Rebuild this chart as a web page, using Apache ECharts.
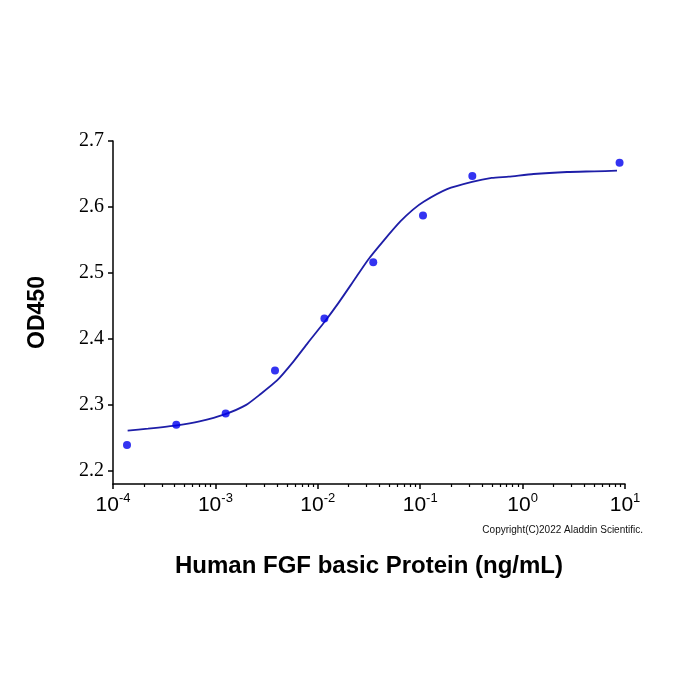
<!DOCTYPE html>
<html>
<head>
<meta charset="utf-8">
<script src="https://cdn.jsdelivr.net/npm/echarts@6/dist/echarts.min.js"></script>
<style>
  html, body { margin: 0; padding: 0; background: #fff; }
  #main { width: 700px; height: 700px; }
</style>
</head>
<body>
<div id="main"></div>
<script>
    // measured points (ng/mL, OD450)
    var concVals = [1.37e-4, 4.15e-4, 1.26e-3, 3.82e-3, 0.0116, 0.0348, 0.1065, 0.323, 8.85];
    var odVals = [2.239, 2.270, 2.287, 2.352, 2.431, 2.516, 2.587, 2.647, 2.667];

    // fitted curve
    var fitConc = [1.39e-4, 2.2e-4, 4.22e-4, 7e-4, 1.25e-3, 2e-3, 2.74e-3, 4.0e-3, 5.8e-3, 8e-3, 0.0114, 0.016, 0.0224, 0.031, 0.044, 0.064, 0.085, 0.108, 0.183, 0.321, 0.5, 0.73, 1.28, 2.72, 5, 8.36];
    var fitOD = [2.261, 2.264, 2.269, 2.275, 2.286, 2.300, 2.316, 2.337, 2.366, 2.394, 2.424, 2.455, 2.488, 2.520, 2.549, 2.578, 2.596, 2.608, 2.627, 2.638, 2.644, 2.646, 2.650, 2.653, 2.654, 2.655];

    var xMajor = [1e-4, 1e-3, 1e-2, 1e-1, 1, 10];
    var yTicks = [2.2, 2.3, 2.4, 2.5, 2.6, 2.7];

    var xMinor = [];
    for (var d = 0; d < xMajor.length - 1; d++) {
        for (var k = 2; k <= 9; k++) {
            xMinor.push(xMajor[d] * k);
        }
    }

    var points = [];
    for (var i = 0; i < concVals.length; i++) {
        points.push([concVals[i], odVals[i]]);
    }
    var curve = [];
    for (var j = 0; j < fitConc.length; j++) {
        curve.push([fitConc[j], fitOD[j]]);
    }

    var myChart = echarts.init(document.getElementById('main'));

    var option = {
        backgroundColor: '#fff',
        animation: false,
        grid: {
            left: 113,
            right: 75,
            top: 141,
            bottom: 216,
            containLabel: false,
            outerBoundsMode: 'none'
        },
        xAxis: [{
            type: 'log',
            logBase: 10,
            min: 1e-4,
            max: 10,
            position: 'bottom',
            name: 'Human FGF basic Protein (ng/mL)',
            nameLocation: 'middle',
            nameGap: 70,
            nameTextStyle: {
                fontFamily: 'Liberation Sans',
                fontWeight: 'bold',
                fontSize: 24,
                color: '#000'
            },
            axisLine: { show: true, lineStyle: { color: '#000', width: 1.5 } },
            axisTick: {
                show: true,
                length: 5,
                customValues: xMajor,
                lineStyle: { color: '#000', width: 1.5 }
            },
            splitLine: { show: false },
            axisLabel: {
                margin: 8,
                customValues: xMajor,
                formatter: function (v) {
                    var e = Math.round(Math.log10(v));
                    return '{b|10}{s|' + e + '}';
                },
                rich: {
                    b: { fontFamily: 'Liberation Sans', fontSize: 21, color: '#000', lineHeight: 24, verticalAlign: 'bottom' },
                    s: { fontFamily: 'Liberation Sans', fontSize: 13, color: '#000', lineHeight: 18, verticalAlign: 'top' }
                }
            }
        }, {
            // minor ticks
            type: 'log',
            logBase: 10,
            min: 1e-4,
            max: 10,
            position: 'bottom',
            axisLine: { show: false },
            axisTick: {
                show: true,
                length: 3,
                customValues: xMinor,
                lineStyle: { color: '#000', width: 1.2 }
            },
            axisLabel: { show: false },
            splitLine: { show: false }
        }],
        yAxis: {
            type: 'value',
            min: 2.18,
            max: 2.7,
            name: 'OD450',
            nameLocation: 'middle',
            nameRotate: 90,
            nameGap: 64,
            nameTextStyle: {
                fontFamily: 'Liberation Sans',
                fontWeight: 'bold',
                fontSize: 23,
                color: '#000'
            },
            axisLine: { show: true, lineStyle: { color: '#000', width: 1.5 } },
            axisTick: {
                show: true,
                length: 5,
                customValues: yTicks,
                lineStyle: { color: '#000', width: 1.5 }
            },
            splitLine: { show: false },
            axisLabel: {
                margin: 9,
                customValues: yTicks,
                fontFamily: 'Liberation Serif',
                fontSize: 20,
                color: '#000',
                formatter: function (v) { return v.toFixed(1); }
            }
        },
        graphic: [{
            type: 'text',
            right: 57,
            top: 525,
            style: {
                text: 'Copyright(C)2022 Aladdin Scientific.',
                font: '10px "Liberation Sans"',
                fill: '#111'
            }
        }],
        series: [{
            type: 'line',
            data: curve,
            smooth: 0.2,
            symbol: 'none',
            lineStyle: { color: '#1e1ea8', width: 1.8 },
            z: 2
        }, {
            type: 'scatter',
            data: points,
            symbol: 'circle',
            symbolSize: 8,
            itemStyle: { color: '#0000ee' },
            z: 3
        }]
    };

    myChart.setOption(option);
</script>
</body>
</html>
